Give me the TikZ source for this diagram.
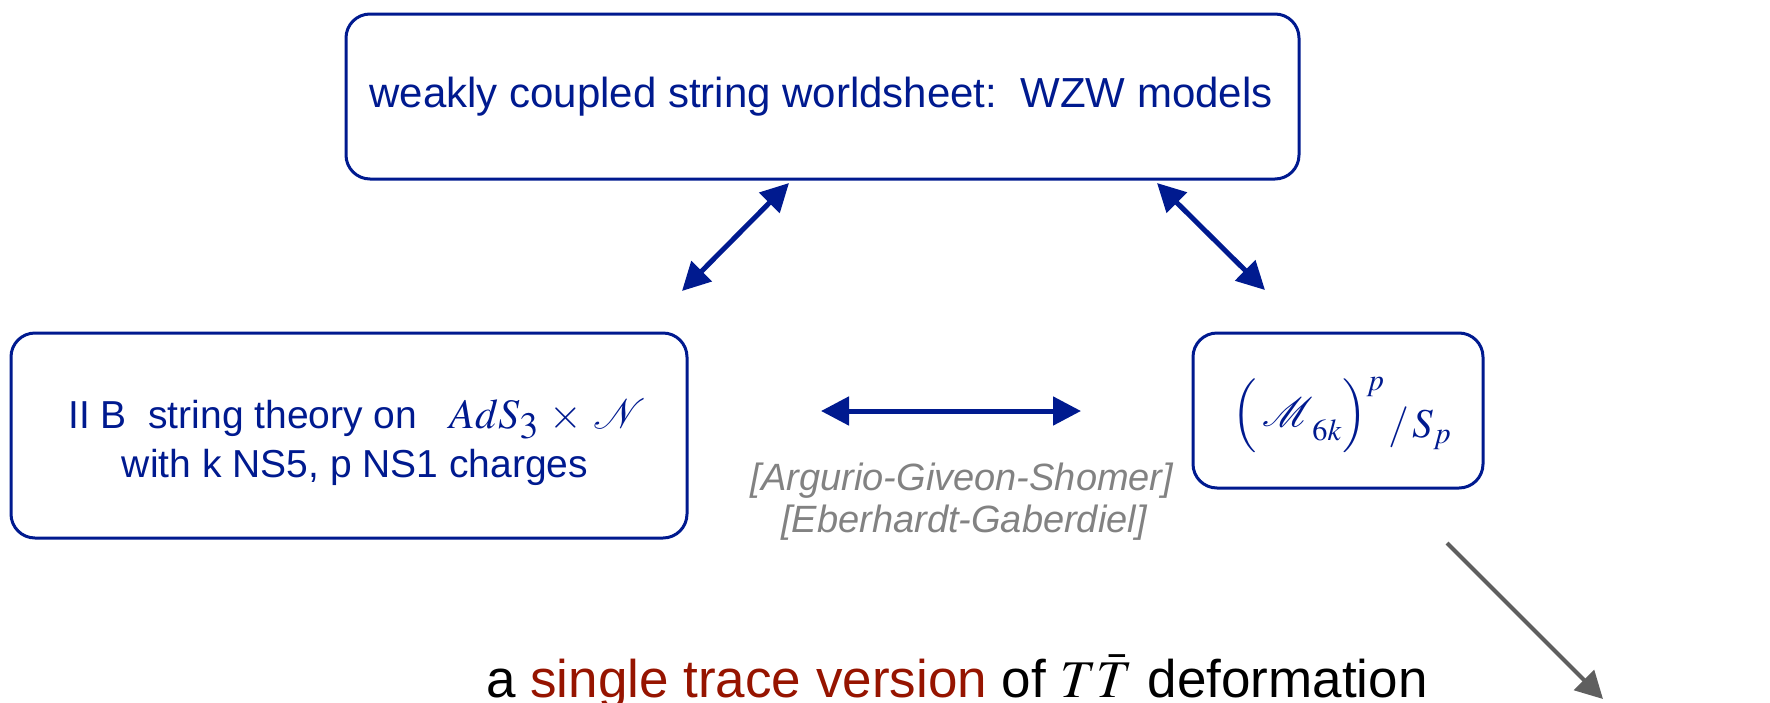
\documentclass[tikz,border=0pt]{standalone}
\usepackage{mathptmx}
\usepackage{mathrsfs}
% let the script alphabet scale freely to large sizes
\DeclareFontFamily{U}{rsfs}{\skewchar\font127 }
\DeclareFontShape{U}{rsfs}{m}{n}{<-6> rsfs5 <6-8> rsfs7 <8-> rsfs10}{}
\usepackage{fontspec}
\setmainfont{Liberation Sans}
\usetikzlibrary{arrows.meta}
\definecolor{navy}{RGB}{0,26,143}
\definecolor{rust}{RGB}{150,20,0}
\definecolor{refgray}{RGB}{130,130,130}
\definecolor{arrowgray}{RGB}{95,95,95}
\begin{document}
\begin{tikzpicture}[x=1pt,y=-1pt,
  box/.style={draw=navy, line width=3pt, rounded corners=24pt, inner sep=0pt},
  txt/.style={text=navy, anchor=base, inner sep=0pt},
  reftxt/.style={text=refgray, anchor=base, inner sep=0pt, font=\fontsize{38}{44}\selectfont\itshape},
  biarrow/.style={navy, line width=5pt,
    {Triangle[length=28pt,width=28pt]}-{Triangle[length=28pt,width=28pt]}},
  grayarrow/.style={arrowgray, line width=4pt, -{Triangle[length=27pt,width=28pt]}}]
\useasboundingbox (0,0) rectangle (1770,702);

% the three boxes
\node[box, minimum width=953pt, minimum height=165pt] (ws) at (822.5,96.5) {};
\node[box, minimum width=676pt, minimum height=205pt] (iib) at (349,435.5) {};
\node[box, minimum width=290pt, minimum height=155pt] (sym) at (1338,410.5) {};

% box texts
\node[txt, font=\fontsize{42}{50}\selectfont] (wstext) at (821,107)
  {weakly coupled string worldsheet:\ \ WZW models};
\node[txt, font=\fontsize{39}{48}\selectfont] (iibA) at (357,428)
  {II B\ \ string theory on\ \ \ {\fontsize{42}{50}\selectfont
   $AdS_{\scalebox{1.2}{$\scriptstyle 3$}}\hspace{5pt}\times\hspace{5pt}\mathscr{N}$}};
\node[txt, font=\fontsize{39}{48}\selectfont] (iibB) at (355,477)
  {with k NS5, p NS1 charges};
\node[txt, font=\fontsize{41}{49}\selectfont] (symtext) at (1342,437)
  {$\raisebox{11pt}{$\Bigl(\hspace{5pt}\mathscr{M}_{\raisebox{-8pt}{$\scriptstyle\hspace{6pt}6k$}}\Bigr)$}^{p}\hspace{4pt}/\hspace{4pt}S_p$};

% references
\node[reftxt] (refA) at (962,490) {[Argurio-Giveon-Shomer]};
\node[reftxt] (refB) at (964,532) {[Eberhardt-Gaberdiel]};

% bottom caption
\node[anchor=base, inner sep=0pt, font=\fontsize{53}{64}\selectfont] (cap) at (957,697)
  {a \textcolor{rust}{single trace version} of $T\bar{T}$ deformation};

% connector end points
\coordinate (wsL) at (789,183);
\coordinate (iibT) at (682,291);
\coordinate (wsR) at (1157,183);
\coordinate (symT) at (1265,290);
\coordinate (iibR) at (821,411);
\coordinate (symL) at (1081,411);
\coordinate (symB) at (1447,543);
\coordinate (out) at (1603,699);

\draw[biarrow] (iibT) -- (wsL);
\draw[biarrow] (wsR) -- (symT);
\draw[biarrow] (iibR) -- (symL);
\draw[grayarrow] (symB) -- (out);
\end{tikzpicture}
\end{document}
